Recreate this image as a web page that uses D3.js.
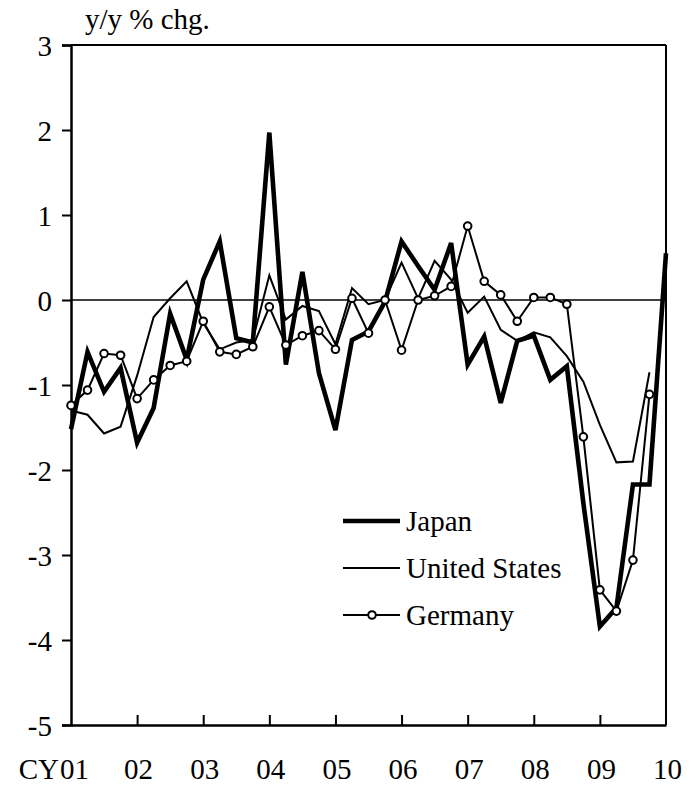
<!DOCTYPE html>
<html>
<head>
<meta charset="utf-8">
<script src="https://cdn.jsdelivr.net/npm/d3@7"></script>
<style>
  html, body { margin: 0; padding: 0; background: #fff; }
</style>
</head>
<body>
<svg id="chart" width="695" height="785"></svg>
<script>
// Quarterly data, 2001Q1 .. 2010Q1 (index 0..36)
const japan = [
  -1.52, -0.61, -1.08, -0.80,
  -1.68, -1.27, -0.16, -0.70,
   0.24,  0.69, -0.45, -0.50,
   1.97, -0.76,  0.33, -0.86,
  -1.53, -0.47, -0.37, -0.02,
   0.69,  0.40,  0.12,  0.67,
  -0.76, -0.43, -1.21, -0.48,
  -0.42, -0.94, -0.78, -2.39,
  -3.84, -3.62, -2.17, -2.17,
   0.55
];
const unitedStates = [
  -1.30, -1.35, -1.57, -1.49,
  -0.89, -0.20,  0.02,  0.22,
  -0.27, -0.58, -0.50, -0.47,
   0.29, -0.23, -0.07, -0.13,
  -0.52,  0.14, -0.05,  0.00,
   0.44,  0.02,  0.46,  0.24,
  -0.15,  0.04, -0.35, -0.48,
  -0.38, -0.44, -0.66, -0.96,
  -1.47, -1.91, -1.90, -0.85
];
const germany = [
  -1.24, -1.06, -0.63, -0.65,
  -1.16, -0.94, -0.77, -0.72,
  -0.25, -0.61, -0.64, -0.55,
  -0.08, -0.53, -0.42, -0.36,
  -0.58,  0.02, -0.39,  0.00,
  -0.59,  0.00,  0.05,  0.16,
   0.87,  0.22,  0.06, -0.25,
   0.03,  0.03, -0.05, -1.61,
  -3.41, -3.66, -3.06, -1.11
];
const yearLabels = ["01","02","03","04","05","06","07","08","09","10"];
const yTicks = [3, 2, 1, 0, -1, -2, -3, -4, -5];
const seriesNames = ["Japan", "United States", "Germany"];

const FONT = "'Liberation Serif', Tinos, 'Times New Roman', Times, 'DejaVu Serif', serif";
const FS = 29;

const svg = d3.select("#chart");
const pLeft = 71, pRight = 666, pTop = 45, pBottom = 725;
const x = d3.scaleLinear().domain([0, 36]).range([pLeft, pRight]);
const y = d3.scaleLinear().domain([-5, 3]).range([pBottom, pTop]);

function styleText(sel) {
  return sel.style("font-family", FONT).style("font-size", FS + "px").attr("fill", "#000");
}

// zero line
svg.append("line")
  .attr("x1", x(0)).attr("x2", x(36))
  .attr("y1", y(0)).attr("y2", y(0))
  .attr("stroke", "#000").attr("stroke-width", 1.6);

// frame top/right
svg.append("line").attr("x1", pLeft).attr("x2", pRight).attr("y1", pTop).attr("y2", pTop)
  .attr("stroke", "#000").attr("stroke-width", 2);
svg.append("line").attr("x1", pRight).attr("x2", pRight).attr("y1", pTop).attr("y2", pBottom)
  .attr("stroke", "#000").attr("stroke-width", 2);

// y axis
const yAxis = d3.axisLeft(y).tickValues(yTicks).tickSize(9).tickPadding(10)
  .tickFormat(d => String(d));
const gy = svg.append("g").attr("transform", `translate(${pLeft},0)`).call(yAxis);
gy.select(".domain").attr("stroke", "#000").attr("stroke-width", 2.5);
gy.selectAll(".tick line").attr("stroke", "#000").attr("stroke-width", 2);
styleText(gy.selectAll(".tick text")).attr("dy", "0.35em");

// x axis (inner ticks at year boundaries)
const xAxis = d3.axisBottom(x).tickValues(d3.range(0, 37, 4)).tickSizeInner(-10).tickSizeOuter(0)
  .tickFormat((d, i) => yearLabels[i]);
const gx = svg.append("g").attr("transform", `translate(0,${pBottom})`).call(xAxis);
gx.select(".domain").attr("stroke", "#000").attr("stroke-width", 2.5);
gx.selectAll(".tick line").attr("stroke", "#000").attr("stroke-width", 2)
  .filter(d => d === 0 || d === 36).remove();
styleText(gx.selectAll(".tick text")).attr("y", 54).attr("dy", 0)
  .attr("dx", d => d === 0 ? 3 : 1);

styleText(svg.append("text").attr("x", 59).attr("y", pBottom + 54)
  .attr("text-anchor", "end").text("CY"));

styleText(svg.append("text").attr("x", 85).attr("y", 29).text("y/y % chg."));

const line = d3.line().x((d, i) => x(i)).y(d => y(d));

svg.append("path").datum(unitedStates).attr("d", line)
  .attr("fill", "none").attr("stroke", "#000").attr("stroke-width", 2);

svg.append("path").datum(germany).attr("d", line)
  .attr("fill", "none").attr("stroke", "#000").attr("stroke-width", 2);

svg.append("path").datum(japan).attr("d", line)
  .attr("fill", "none").attr("stroke", "#000").attr("stroke-width", 4.6);

svg.append("g").selectAll("circle").data(germany).join("circle")
  .attr("cx", (d, i) => x(i)).attr("cy", d => y(d)).attr("r", 3.8)
  .attr("fill", "#fff").attr("stroke", "#000").attr("stroke-width", 2);

// legend
const legY = [521, 568, 615];
const lg = svg.append("g");
lg.append("line").attr("x1", 343).attr("x2", 400).attr("y1", legY[0]).attr("y2", legY[0])
  .attr("stroke", "#000").attr("stroke-width", 4.6);
lg.append("line").attr("x1", 343).attr("x2", 400).attr("y1", legY[1]).attr("y2", legY[1])
  .attr("stroke", "#000").attr("stroke-width", 2);
lg.append("line").attr("x1", 343).attr("x2", 400).attr("y1", legY[2]).attr("y2", legY[2])
  .attr("stroke", "#000").attr("stroke-width", 2);
lg.append("circle").attr("cx", 372).attr("cy", legY[2]).attr("r", 3.8)
  .attr("fill", "#fff").attr("stroke", "#000").attr("stroke-width", 2);
styleText(lg.selectAll("text.leg").data(seriesNames).join("text").attr("class", "leg")
  .attr("x", 406).attr("y", (d, i) => legY[i]).attr("dy", "0.35em")
  .text(d => d));
</script>
</body>
</html>
